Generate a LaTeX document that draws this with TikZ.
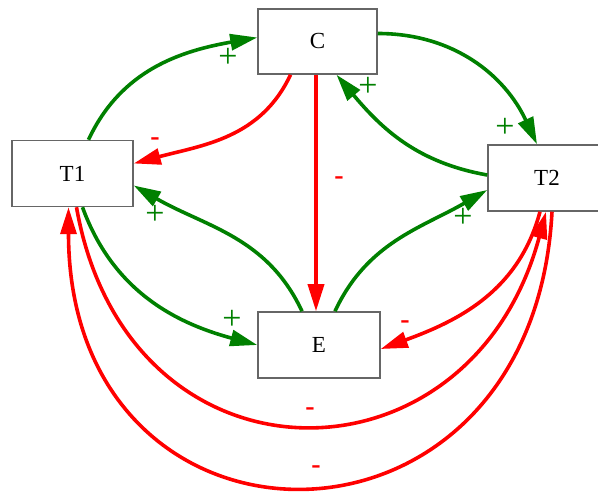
\documentclass[tikz,border=0pt]{standalone}
\usepackage{fontspec}
\setmainfont{Liberation Serif}
\usetikzlibrary{arrows.meta,positioning}

\begin{document}
\begin{tikzpicture}[x=1pt, y=1pt, >={Triangle[length=27pt,width=16pt]},
  every node/.style={font=\fontsize{23}{25}\selectfont},
  var/.style={draw=gray!80!black, line width=1.5pt, fill=white, minimum width=121pt, minimum height=66pt, inner sep=0pt},
  poslink/.style={->, line width=3.6pt, draw=green!50!black},
  neglink/.style={->, line width=3.6pt, draw=red},
  plussign/.style={text=green!50!black, font=\fontsize{34}{34}\selectfont},
  minussign/.style={text=red, font=\bfseries\fontsize{28}{28}\selectfont}]
  \clip (0,0) rectangle (598,495);

  % variables
  \node[var, minimum width=119pt, minimum height=65pt] (C) at (317.5,453.5) {C};
  \node[var] (T1) at (72.5,321.5) {T1};
  \node[var, minimum width=118pt] (T2) at (547,317) {T2};
  \node[var, minimum width=122pt] (E) at (319,150) {E};

  % positive links
  \draw[poslink] ([xshift=16pt]T1.north) to[out=65, in=190] ([yshift=4pt]C.west);
  \draw[poslink] ([yshift=8pt]C.east) to[out=0, in=115] ([xshift=-10pt]T2.north);
  \draw[poslink] ([yshift=3pt]T2.west) to[out=170, in=-50] ([xshift=19pt]C.south);
  \draw[poslink] ([xshift=-17pt]E.north) to[out=115, in=-30] ([yshift=-12pt]T1.east);
  \draw[poslink] ([xshift=16pt]E.north) to[out=65, in=210] ([yshift=-12pt]T2.west);
  \draw[poslink] ([xshift=10pt]T1.south) to[out=-70, in=165] (E.west);

  % negative links
  \draw[neglink] ([xshift=-27pt]C.south) to[out=-115, in=15] ([yshift=10pt]T1.east);
  \draw[neglink] ([xshift=-1.5pt]C.south) -- ([xshift=-3pt]E.north);
  \draw[neglink] ([xshift=-7pt]T2.south) to[out=-105, in=20] ([yshift=-4pt]E.east);
  \draw[neglink] ([xshift=4pt]T1.south) to[out=-80, in=-105, looseness=1.6] ([xshift=-1pt]T2.south);
  \draw[neglink] ([xshift=5pt]T2.south) to[out=-93, in=-90, looseness=1.95] ([xshift=-4pt]T1.south);

  % signs
  \node[plussign] (p1) at (228,437) {+};
  \node[plussign] (p2) at (505,367) {+};
  \node[plussign] (p3) at (368,408) {+};
  \node[plussign] (p4) at (155,280) {+};
  \node[plussign] (p5) at (463,277) {+};
  \node[plussign] (p6) at (232,175) {+};
  \node[minussign] (m1) at (155,353) {-};
  \node[minussign] (m2) at (339,314) {-};
  \node[minussign] (m3) at (405,170) {-};
  \node[minussign] (m4) at (310,83) {-};
  \node[minussign] (m5) at (316,25) {-};
\end{tikzpicture}
\end{document}
